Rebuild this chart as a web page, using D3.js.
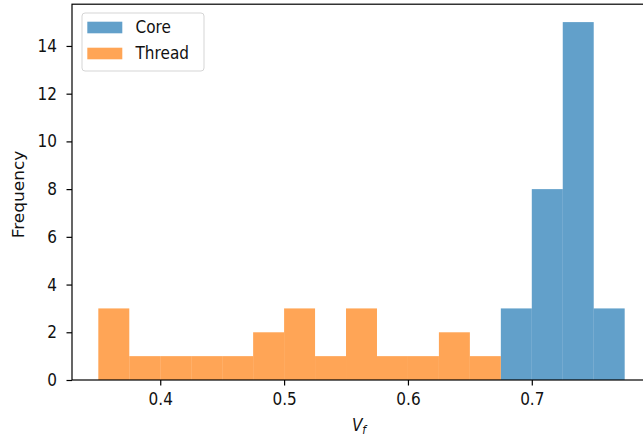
<!DOCTYPE html>
<html>
<head>
<meta charset="utf-8">
<script src="https://cdn.jsdelivr.net/npm/d3@7"></script>
<style>
  body { margin: 0; background: #fff; }
  text { font-family: "DejaVu Sans", sans-serif; }
</style>
</head>
<body>
<div id="chart"></div>
<script>
// histogram bins (left edges) and counts
var coreEdges = [0.675, 0.700, 0.725, 0.750, 0.775];
var coreCounts = [3, 8, 15, 3];
var threadEdges = [0.350, 0.375, 0.400, 0.425, 0.450, 0.475, 0.500, 0.525,
                   0.550, 0.575, 0.600, 0.625, 0.650, 0.675];
var threadCounts = [3, 1, 1, 1, 1, 2, 3, 1, 3, 1, 1, 2, 1];
var xTicks = [0.4, 0.5, 0.6, 0.7];
var yTicks = [0, 2, 4, 6, 8, 10, 12, 14];
var seriesNames = ["Core", "Thread"];

var W = 643, H = 441;
var margin = {top: 4.2, right: -8, bottom: 61, left: 72};
var width = W - margin.left - margin.right,
    height = H - margin.top - margin.bottom;
var fs = 15.3;      // font size
var stretch = 1.11; // the picture is a bit taller than wide

var color = d3.scaleOrdinal().domain(seriesNames).range(["#1f77b4", "#ff7f0e"]);

var svg = d3.select("#chart").append("svg")
    .attr("width", W).attr("height", H)
    .style("display", "block");
var g = svg.append("g")
    .attr("transform", "translate(" + margin.left + "," + margin.top + ")");

var lo = d3.min(threadEdges), hi = d3.max(coreEdges);
var pad = (hi - lo) * 0.05;
var x = d3.scaleLinear().domain([lo - pad, hi + pad]).range([0, width]);
var y = d3.scaleLinear().domain([0, d3.max(coreCounts) * 1.05]).range([height, 0]);

function bins(edges, counts) {
  return counts.map(function(c, i) { return {x0: edges[i], x1: edges[i + 1], n: c}; });
}

var series = [
  {name: "Core", data: bins(coreEdges, coreCounts)},
  {name: "Thread", data: bins(threadEdges, threadCounts)}
];

series.forEach(function(s) {
  g.selectAll(null).data(s.data).enter().append("rect")
    .attr("x", function(d) { return x(d.x0); })
    .attr("width", function(d) { return x(d.x1) - x(d.x0); })
    .attr("y", function(d) { return y(d.n); })
    .attr("height", function(d) { return y(0) - y(d.n); })
    .attr("fill", color(s.name))
    .attr("fill-opacity", 0.7);
});

// axes
var xAxis = g.append("g")
  .attr("transform", "translate(0," + height + ")")
  .call(d3.axisBottom(x).tickValues(xTicks).tickFormat(d3.format(".1f")).tickSize(5.5));
var yAxis = g.append("g")
  .call(d3.axisLeft(y).tickValues(yTicks).tickFormat(d3.format("d")).tickSize(5.5));
[xAxis, yAxis].forEach(function(a) {
  a.select(".domain").remove();
  a.selectAll("line").attr("stroke", "#000").attr("stroke-width", 1.2);
  a.selectAll("text").attr("font-size", fs).attr("fill", "#111")
    .style("font-family", "DejaVu Sans, sans-serif");
});
xAxis.selectAll("text")
  .attr("y", 0).attr("dy", "0.71em")
  .attr("transform", "translate(0,13) scale(1," + stretch + ")");
yAxis.selectAll("text")
  .attr("x", 0).attr("dy", "0.32em")
  .attr("transform", "translate(-15,0) scale(1," + stretch + ")");

// frame
g.append("rect")
  .attr("x", 0).attr("y", 0).attr("width", width).attr("height", height)
  .attr("fill", "none").attr("stroke", "#000").attr("stroke-width", 1.2);

// labels
svg.append("g")
  .attr("transform", "translate(24,194.5) scale(1," + stretch + ") rotate(-90)")
  .append("text")
  .attr("text-anchor", "middle")
  .attr("font-size", fs)
  .attr("fill", "#111")
  .text("Frequency");

var xl = svg.append("g")
  .attr("transform", "translate(359,431) scale(1," + stretch + ")")
  .append("text")
  .attr("text-anchor", "middle")
  .attr("font-size", fs)
  .attr("fill", "#111");
xl.append("tspan").attr("font-style", "italic").text("V");
xl.append("tspan").attr("font-style", "italic").attr("font-size", fs * 0.7).attr("dy", 2.5).text("f");

// legend
var lg = svg.append("g").attr("transform", "translate(82,13)");
lg.append("rect")
  .attr("width", 122).attr("height", 58).attr("rx", 3)
  .attr("fill", "#fff").attr("fill-opacity", 0.8)
  .attr("stroke", "#d5d5d5").attr("stroke-width", 1);
seriesNames.forEach(function(n, i) {
  lg.append("rect")
    .attr("x", 5.3).attr("y", 8.7 + i * 26).attr("width", 35).attr("height", 11.6)
    .attr("fill", color(n)).attr("fill-opacity", 0.7);
  lg.append("g")
    .attr("transform", "translate(53.5," + (20 + i * 26) + ") scale(1," + stretch + ")")
    .append("text")
    .attr("font-size", fs)
    .attr("fill", "#111")
    .text(n);
});
</script>
</body>
</html>
